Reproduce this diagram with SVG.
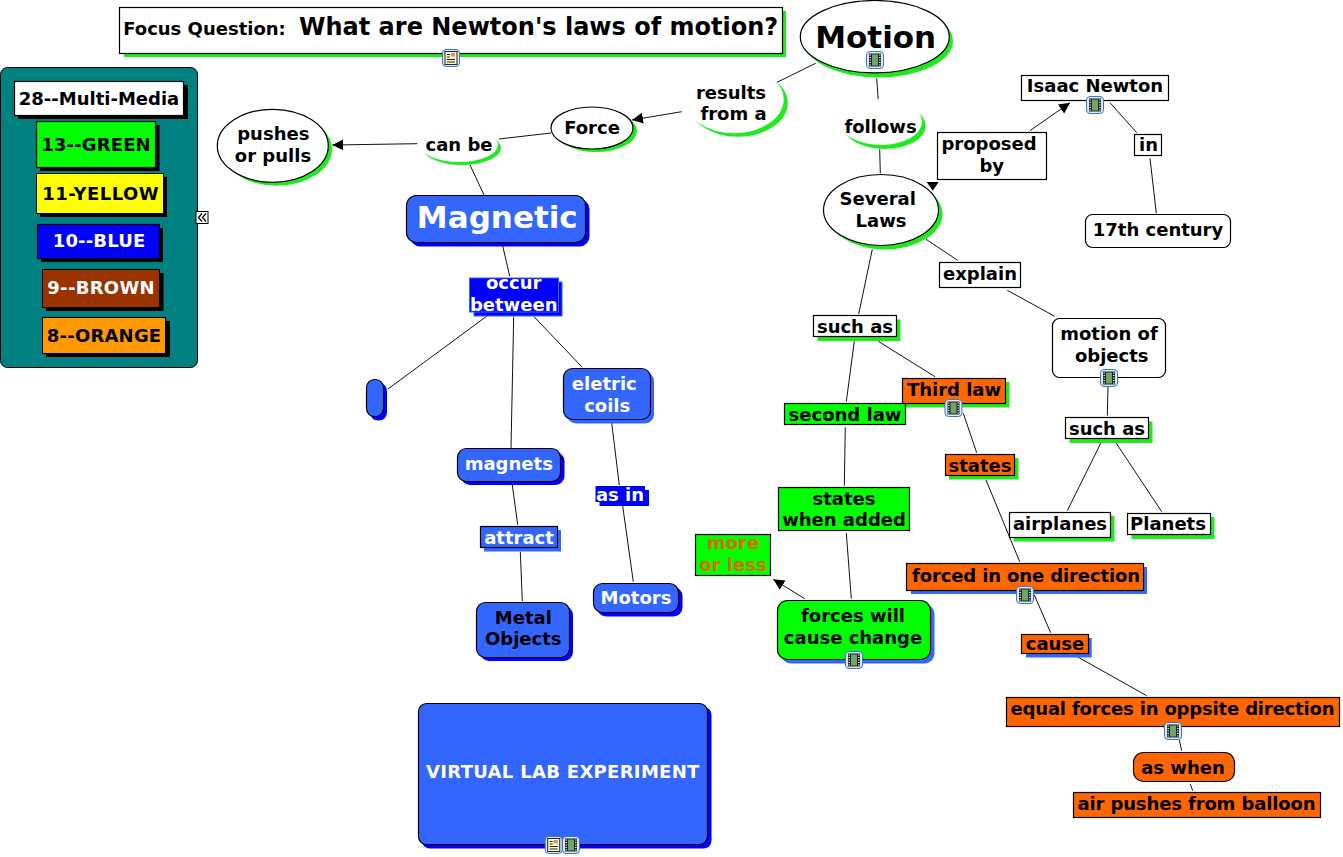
<svg xmlns="http://www.w3.org/2000/svg" width="1343" height="857" viewBox="0 0 1343 857">
<style>
text{font-family:"DejaVu Sans",Verdana,sans-serif;font-weight:bold;font-size:18px;text-anchor:middle;fill:#000}
.w{fill:#fff}
.big{font-size:31px}
.ml{fill:#d96b00}
.ln{stroke:#111;stroke-width:1;fill:none}
.s{stroke:#000;stroke-width:1.2}
.wf{fill:#fff}.g{fill:#00ff00}.gs{fill:#1eea1e}.b{fill:#3366ff}.db{fill:#0000ff}.o{fill:#ff6600}.k{fill:#000}.bs{fill:#3366ff}
</style>
<defs>
<marker id="arr" markerWidth="12" markerHeight="12" refX="11" refY="5.500" orient="auto" markerUnits="userSpaceOnUse"><path d="M0 0L11 5.500L0 11Z" fill="#000"/></marker>
<g id="film"><rect x="-8.500" y="-8.500" width="17" height="17" rx="3.500" fill="#dce8f8" stroke="#3b78c4" stroke-width="1"/><rect x="-6" y="-6.500" width="12" height="13" fill="#222"/><rect x="-3" y="-5.500" width="6" height="11" fill="#6aa86a"/><path d="M-5.500-5h1.500M-5.500-2.500h1.500M-5.500 0h1.500M-5.500 2.500h1.500M-5.500 5h1.500M4-5h1.500M4-2.500h1.500M4 0h1.500M4 2.500h1.500M4 5h1.500" stroke="#eee" stroke-width="1"/></g>
<g id="doc"><rect x="-8.500" y="-8.500" width="17" height="17" rx="3.500" fill="#dce8f8" stroke="#3b78c4" stroke-width="1"/><rect x="-6" y="-6.500" width="12" height="13" fill="#ffffc8" stroke="#222" stroke-width="1"/><path d="M-4-3.500h3M-4-1h3M-4 1.500h8M-4 4h8" stroke="#222" stroke-width="1"/><rect x="0" y="-5" width="4" height="3.500" fill="#d88"/></g>
</defs>
<g id="connectors">
<path class="ln" d="M815.700 63.300L775 83.300"/>
<path class="ln" d="M876.700 78.300L878.700 106.700"/>
<path class="ln" d="M879.700 149.300L880.300 173.300"/>
<path class="ln" d="M681.700 111.700L632 120" marker-end="url(#arr)"/>
<path class="ln" d="M551 133L499 139"/>
<path class="ln" d="M417.300 143.700L332.300 145" marker-end="url(#arr)"/>
<path class="ln" d="M470 165L484 195"/>
<path class="ln" d="M502.700 246L509.700 276"/>
<path class="ln" d="M487 316L388 389"/>
<path class="ln" d="M513.700 316.700L511 448"/>
<path class="ln" d="M534 316.700L581.700 366.700"/>
<path class="ln" d="M512.300 485L517.700 524.700"/>
<path class="ln" d="M520.300 551.700L522.300 601"/>
<path class="ln" d="M611.700 423L619.300 485"/>
<path class="ln" d="M622.700 506L633.300 581.700"/>
<path class="ln" d="M1030 130.700L1070 102.700" marker-end="url(#arr)"/>
<path class="ln" d="M1110 102.700L1136.700 132.700"/>
<path class="ln" d="M1150 158.300L1156.300 213.300"/>
<path d="M926.700 182H938.700L932.700 190.700Z" fill="#000"/>
<path class="ln" d="M926 239.300L957.700 260.300"/>
<path class="ln" d="M1007.300 290.300L1054.700 316.300"/>
<path class="ln" d="M872.300 249.300L858.700 314"/>
<path class="ln" d="M854.300 341.300L846.300 401.700"/>
<path class="ln" d="M878.300 341.300L935 376.700"/>
<path class="ln" d="M845.300 427.300L844.300 485.700"/>
<path class="ln" d="M846.300 533L851.300 598.700"/>
<path class="ln" d="M804.700 598.700L773.300 579.300" marker-end="url(#arr)"/>
<path class="ln" d="M963.300 413.300L976.700 452.700"/>
<path class="ln" d="M986 480L1019.700 561.700"/>
<path class="ln" d="M1034.300 595L1050.700 632.700"/>
<path class="ln" d="M1077.300 656.700L1146.700 695.700"/>
<path class="ln" d="M1179.300 740L1181.700 750.700"/>
<path class="ln" d="M1190.300 784L1192.700 790.700"/>
<path class="ln" d="M1108 386.700L1107.300 415.700"/>
<path class="ln" d="M1100.700 443.300L1067.300 510.700"/>
<path class="ln" d="M1116.300 443.300L1161.700 511.700"/>
</g>
<g id="focus"><rect x="124" y="11" width="662" height="46" class="gs"/><rect x="119.500" y="7.500" width="663" height="46" class="wf s"/><text x="204.500" y="35">Focus Question:</text><text x="538.600" y="35" style="font-size:24px" textLength="479.300">What are Newton's laws of motion?</text><use href="#doc" x="451" y="58"/></g>
<g id="legend"><rect x="0.500" y="67.500" width="197" height="300" rx="7" fill="#008080" stroke="#000"/>
<rect x="18" y="85" width="170" height="34" class="k"/><rect x="14.500" y="81.500" width="169" height="34" class="wf s"/><text x="99" y="105">28--Multi-Media</text>
<rect x="40" y="125" width="119.500" height="46" class="k"/><rect x="36.500" y="121.500" width="119" height="46" class="g s"/><text x="96" y="150.500" textLength="109.400">13--GREEN</text>
<rect x="40" y="177" width="127" height="40" class="k"/><rect x="36.500" y="173.500" width="127" height="40" fill="#ffff00" stroke="#000"/><text x="100.500" y="199.500" textLength="116.400">11-YELLOW</text>
<rect x="41" y="228" width="122" height="34" class="k"/><rect x="37.500" y="224.500" width="122" height="34" class="db s"/><text class="w" x="99" y="247" textLength="92.600">10--BLUE</text>
<rect x="46" y="273" width="117.500" height="38" class="k"/><rect x="42.500" y="269.500" width="117" height="38" fill="#993300" stroke="#000"/><text class="w" x="101" y="294" textLength="107.400">9--BROWN</text>
<rect x="46" y="321" width="124" height="36" class="k"/><rect x="42.500" y="317.500" width="123" height="36" fill="#ff9900" stroke="#000"/><text x="104" y="341.500" textLength="114.300">8--ORANGE</text>
<rect x="196" y="211.500" width="12" height="12" fill="#fff" stroke="#000"/><path d="M202 213.500l-3.500 4 3.500 4M206 213.500l-3.500 4 3.500 4" fill="none" stroke="#000" stroke-width="1.300"/></g>
<g id="motion"><ellipse cx="878.500" cy="41" rx="74.500" ry="36.500" class="gs"/><ellipse cx="874.800" cy="36.700" rx="74.500" ry="36.200" class="wf s"/><text class="big" x="875.700" y="47.700">Motion</text><use href="#film" x="875" y="60"/></g>
<g id="results"><ellipse cx="738" cy="103" rx="49.700" ry="33.700" class="gs"/><ellipse cx="734" cy="99.500" rx="49.700" ry="33.700" class="wf"/><text x="731" y="98.500">results</text><text x="733.500" y="120">from a</text></g>
<g id="follows"><ellipse cx="884.700" cy="126" rx="41" ry="23" class="gs"/><ellipse cx="881" cy="122" rx="41" ry="23" class="wf"/><text x="880.500" y="133.300">follows</text></g>
<g id="force"><ellipse cx="596" cy="131" rx="41" ry="21" class="gs"/><ellipse cx="592" cy="128" rx="41" ry="21" class="wf s"/><text x="592" y="134">Force</text></g>
<g id="canbe"><ellipse cx="462" cy="148" rx="39" ry="17" class="gs"/><ellipse cx="459" cy="145" rx="39" ry="17" class="wf"/><text x="459" y="151">can be</text></g>
<g id="pushes"><ellipse cx="276.500" cy="149.300" rx="55.500" ry="36.500" class="gs"/><ellipse cx="272.800" cy="145.800" rx="55.500" ry="36.500" class="wf s"/><text x="273.300" y="140">pushes</text><text x="273" y="161.700">or pulls</text></g>
<g id="magnetic"><rect x="410" y="199" width="179.500" height="47.500" rx="10" class="db"/><rect x="406.500" y="195.500" width="179" height="47" rx="10" class="b s"/><text class="w big" x="497.300" y="228.300">Magnetic</text></g>
<g id="occur"><rect x="474" y="282" width="88" height="34" class="db" stroke="#3366ff"/><rect x="469.500" y="278" width="89" height="34" class="db" stroke="#3366ff"/><text class="w" x="513.700" y="289">occur</text><text class="w" x="513.700" y="310.700">between</text></g>
<g id="blank"><rect x="370" y="383" width="17" height="37.500" rx="8" class="db"/><rect x="366.500" y="379.500" width="17" height="37" rx="8" class="b s"/></g>
<g id="magnets"><rect x="461" y="452" width="103.500" height="33" rx="9" class="db"/><rect x="457.500" y="448.500" width="103" height="33" rx="9" class="b s"/><text class="w" x="508.800" y="470">magnets</text></g>
<g id="coils"><rect x="567" y="372" width="87" height="51.500" rx="9" class="bs"/><rect x="563.500" y="368.500" width="87" height="51" rx="9" class="b s"/><text class="w" x="604.300" y="389.500">eletric</text><text class="w" x="607.200" y="411.500">coils</text></g>
<g id="asin"><rect x="599.500" y="490" width="49.500" height="16" class="db"/><rect x="595.500" y="486" width="49.500" height="16" class="db"/><text class="w" x="620" y="500.700">as in</text></g>
<g id="attract"><rect x="484" y="530" width="77" height="21.500" class="bs"/><rect x="480.500" y="526.500" width="77" height="21" class="b s"/><text class="w" x="519" y="543.500">attract</text></g>
<g id="metal"><rect x="480" y="606" width="93" height="55" rx="9" class="db"/><rect x="476.500" y="602.500" width="93" height="55" rx="9" class="b s"/><text x="523.300" y="623.500">Metal</text><text x="523.300" y="645">Objects</text></g>
<g id="motors"><rect x="597" y="587" width="85.500" height="29.500" rx="9" class="db"/><rect x="593.500" y="583.500" width="85" height="29" rx="9" class="b s"/><text class="w" x="636" y="603.500">Motors</text></g>
<g id="lab"><rect x="422" y="707" width="289.500" height="141.500" rx="8" class="db"/><rect x="418.500" y="703.500" width="289" height="141" rx="8" class="b s"/><text class="w" x="562.700" y="778.300" textLength="273.300">VIRTUAL LAB EXPERIMENT</text><use href="#doc" x="553.700" y="845"/><use href="#film" x="571" y="845"/></g>
<g id="newton"><rect x="1021.500" y="75.500" width="147" height="25" class="wf s"/><text x="1095" y="92">Isaac Newton</text><use href="#film" x="1095" y="105"/></g>
<g id="proposed"><rect x="937.500" y="132.500" width="109" height="47" class="wf s"/><text x="989" y="150">proposed</text><text x="991.700" y="172">by</text></g>
<g id="in"><rect x="1134.500" y="134.500" width="27" height="21" class="wf s"/><text x="1148.500" y="151">in</text></g>
<g id="century"><rect x="1085.500" y="214.500" width="145" height="33" rx="7" class="wf s"/><text x="1158" y="236">17th century</text></g>
<g id="laws"><ellipse cx="885" cy="214" rx="57.500" ry="35.500" class="gs"/><ellipse cx="881" cy="210" rx="57.500" ry="35.500" class="wf s"/><text x="877.700" y="205.300">Several</text><text x="881" y="227.300">Laws</text></g>
<g id="explain"><rect x="939.500" y="262.500" width="81" height="25" class="wf s"/><text x="980" y="280">explain</text></g>
<g id="objects"><rect x="1052.500" y="318.500" width="113" height="59" rx="7" class="wf s"/><text x="1109" y="340">motion of</text><text x="1111.700" y="362">objects</text><use href="#film" x="1109" y="378"/></g>
<g id="suchas1"><rect x="817.500" y="319.500" width="83" height="21.500" class="gs"/><rect x="813.500" y="315.500" width="83" height="21" class="wf s"/><text x="855" y="333">such as</text></g>
<g id="suchas2"><rect x="1069.500" y="421.500" width="83" height="21.500" class="gs"/><rect x="1065.500" y="417.500" width="83" height="21" class="wf s"/><text x="1107" y="435">such as</text></g>
<g id="airplanes"><rect x="1013.500" y="516" width="101" height="25.500" class="gs"/><rect x="1009.500" y="512.500" width="101" height="25" class="wf s"/><text x="1060" y="530">airplanes</text></g>
<g id="planets"><rect x="1131.500" y="517" width="83" height="22" class="gs"/><rect x="1127.500" y="513.500" width="83" height="21" class="wf s"/><text x="1168" y="530">Planets</text></g>
<g id="third"><rect x="906" y="382" width="103.500" height="25.500" class="gs"/><rect x="902.500" y="378.500" width="103" height="25" class="o s"/><text x="954" y="396">Third law</text><use href="#film" x="953.500" y="408"/></g>
<g id="second"><rect x="784.500" y="403.500" width="121" height="21" class="g s"/><text x="845" y="420.500">second law</text></g>
<g id="states"><rect x="949" y="458" width="69.500" height="21.500" class="gs"/><rect x="945.500" y="454.500" width="69" height="21" class="o s"/><text x="980" y="472">states</text></g>
<g id="whenadded"><rect x="778.500" y="487.500" width="131" height="43" class="g s"/><text x="844" y="505">states</text><text x="844" y="526">when added</text></g>
<g id="moreless"><rect x="695.500" y="534.500" width="75" height="41" class="g s"/><text class="ml" x="733" y="549">more</text><text class="ml" x="733" y="571">or less</text></g>
<g id="forces"><rect x="781" y="604" width="153.500" height="59.500" rx="10" class="bs"/><rect x="777.500" y="600.500" width="153" height="59" rx="10" class="g s"/><text x="853" y="622">forces will</text><text x="853" y="644">cause change</text><use href="#film" x="854" y="660"/></g>
<g id="forced"><rect x="911" y="567" width="236" height="27" class="bs"/><rect x="906.500" y="563.500" width="237" height="27" class="o s"/><text x="1026" y="582" textLength="228">forced in one direction</text><use href="#film" x="1025" y="595"/></g>
<g id="cause"><rect x="1026" y="638" width="65.700" height="19.500" class="bs"/><rect x="1021.500" y="634.500" width="67" height="19" class="o s"/><text x="1055" y="650">cause</text></g>
<g id="equal"><rect x="1006.500" y="697.500" width="333" height="29" class="o s"/><text x="1172.500" y="715" textLength="324">equal forces in oppsite direction</text><use href="#film" x="1173" y="731"/></g>
<g id="aswhen"><rect x="1133.500" y="752.500" width="101" height="29" rx="10" class="o s"/><text x="1183" y="774">as when</text></g>
<g id="balloon"><rect x="1073.500" y="792.500" width="247" height="25" class="o s"/><text x="1196.500" y="810" textLength="238">air pushes from balloon</text></g>
</svg>
